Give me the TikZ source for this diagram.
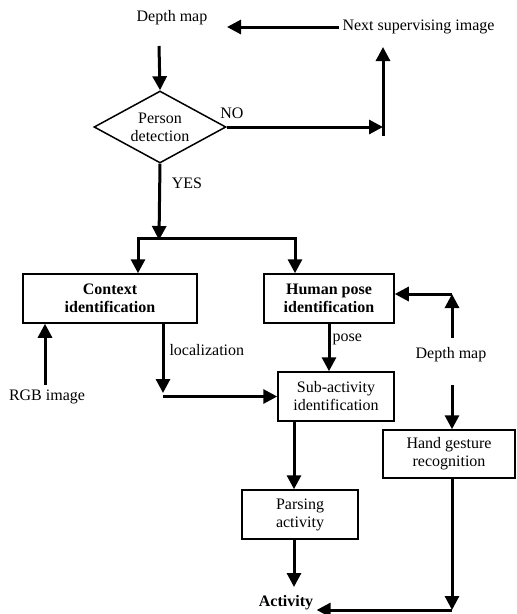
\documentclass[tikz,border=0pt]{standalone}
\usepackage{fontspec}
\setmainfont{Liberation Serif}
\usetikzlibrary{arrows.meta,shapes.geometric}

\begin{document}
\begin{tikzpicture}[x=1pt,y=1pt,
    font=\fontsize{16}{18}\selectfont,
    procbox/.style={draw, line width=1.5pt, align=center, inner sep=2pt},
    boldbox/.style={procbox, font=\fontsize{16}{18}\selectfont\bfseries},
    decision/.style={draw, diamond, line width=1.5pt, align=center, aspect=1.8,
        minimum width=132pt, minimum height=72pt, inner sep=0pt},
    flow/.style={line width=3pt, -{Triangle[length=14pt,width=14pt]}},
    plain/.style={line width=3pt, line cap=rect}]
    \useasboundingbox (0,0) rectangle (517,-614);

    % texts and boxes
    \node (depth) at (172,-18) {Depth map};
    \node[anchor=west] (next) at (339,-27) {Next supervising image};
    \node[decision] (person) at (160,-127) {Person\\detection};
    \node (no) at (232,-113) {NO};
    \node (yes) at (187,-183) {YES};
    \node[boldbox, minimum width=174pt, minimum height=49pt] (context) at (110,-298.5) {Context\\identification};
    \node[boldbox, minimum width=130pt, minimum height=49pt] (pose) at (329,-298.5) {Human pose\\identification};
    \node (rgb) at (47,-397) {RGB image};
    \node[anchor=west] (loclabel) at (166,-350) {localization};
    \node[anchor=west] (poselabel) at (329,-339) {pose};
    \node[procbox, minimum width=116pt, minimum height=49pt] (sub) at (336,-396.5) {Sub-activity\\identification};
    \node (depthb) at (451,-355) {Depth map};
    \node[procbox, minimum width=132pt, minimum height=48pt] (hand) at (449,-454) {Hand gesture\\recognition};
    \node[procbox, minimum width=116pt, minimum height=49pt] (parse) at (300,-514.5) {Parsing\\activity};
    \node[font=\fontsize{16}{18}\selectfont\bfseries] (act) at (286,-603) {Activity};

    % free ends of the connectors
    \coordinate (dtop) at (159,-46);
    \coordinate (dtip) at (227,-27);
    \coordinate (nobot) at (383,-136);
    \coordinate (notop) at (383,-47);
    \coordinate (split) at (159,-240);
    \coordinate (splitl) at (138,-238);
    \coordinate (splitr) at (295,-238);
    \coordinate (rgbup) at (45,-385);
    \coordinate (loc) at (163,-393);
    \coordinate (hup) at (452,-338);
    \coordinate (hcorner) at (452,-294);
    \coordinate (hdown) at (452,-385);
    \coordinate (sp) at (294,-421);
    \coordinate (actin) at (294,-587);
    \coordinate (hb) at (452,-610);

    % connectors
    \draw[flow] (dtop) -- (person.north);
    \draw[flow] (next.west) -- (dtip);
    \draw[flow] (person.east) -- (person.east -| nobot);
    \draw[flow] (nobot) -- (notop);
    \draw[flow] (person.south) -- (split);
    \draw[plain] (splitl) -- (splitr);
    \draw[flow] (splitl) -- (splitl |- context.north);
    \draw[flow] (splitr) -- (splitr |- pose.north);
    \draw[flow] (rgbup) -- (rgbup |- context.south);
    \draw[flow] (loc |- context.south) -- (loc);
    \draw[flow] (loc |- sub.west) -- (sub.west);
    \draw[flow] (pose.south) -- (pose.south |- sub.north);
    \draw[flow] (hup) -- (hcorner);
    \draw[flow] (hcorner) -- (hcorner -| pose.east);
    \draw[flow] (hdown) -- (hdown |- hand.north);
    \draw[flow] (sp) -- (sp |- parse.north);
    \draw[flow] (sp |- parse.south) -- (actin);
    \draw[flow] (hand.south -| hb) -- (hb);
    \draw[flow] (hb) -- (act.east |- hb);
\end{tikzpicture}
\end{document}
